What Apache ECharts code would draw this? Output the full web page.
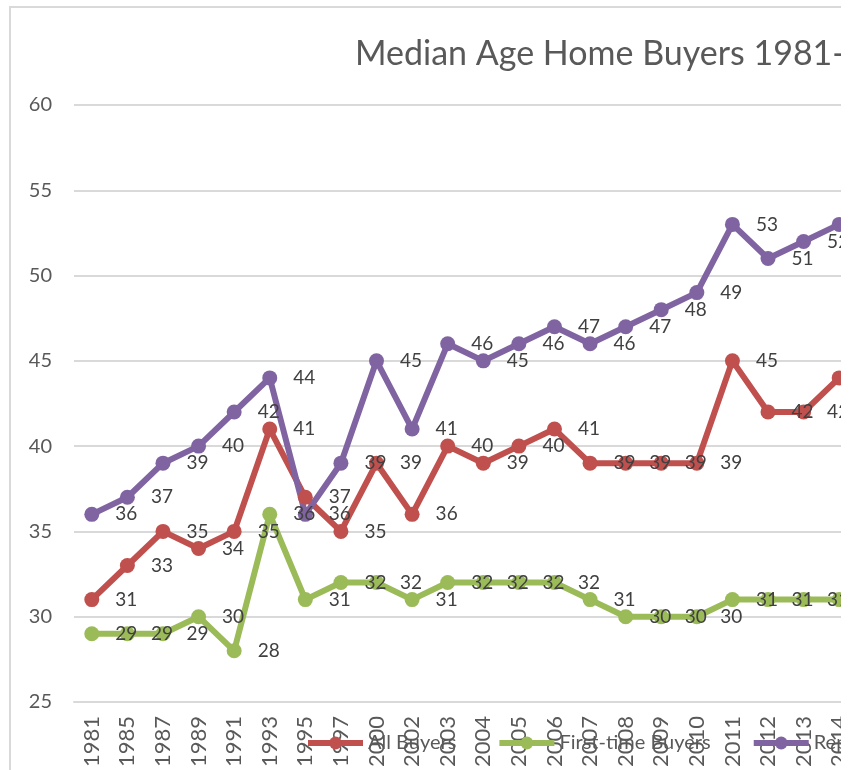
<!DOCTYPE html>
<html>
<head>
<meta charset="UTF-8">
<title>Median Age Home Buyers</title>
<style type="text/css">
	* { margin: 0; padding: 0; }
	body { background: #fff; width: 854px; height: 770px; overflow: hidden; }
	.wrap { position: absolute; left: 0; top: 0; width: 841px; height: 770px; overflow: hidden; }
	.frame { position: absolute; left: 9px; top: 6px; width: 1000px; height: 1000px;
		border-left: 2px solid #d9d9d9; border-top: 2px solid #d9d9d9; }
	#chart { position: absolute; left: 0; top: 0; width: 880px; height: 770px; }
</style>
</head>
<body>
<div class="wrap">
	<div class="frame"></div>
	<div id="chart"></div>
</div>
<script src="https://cdn.jsdelivr.net/npm/echarts@6/dist/echarts.min.js"></script>
<script type="text/javascript">
	// 数据
	var years = ['1981', '1985', '1987', '1989', '1991', '1993', '1995', '1997', '2000', '2002', '2003',
		'2004', '2005', '2006', '2007', '2008', '2009', '2010', '2011', '2012', '2013', '2014'];
	var allBuyers = [31, 33, 35, 34, 35, 41, 37, 35, 39, 36, 40, 39, 40, 41, 39, 39, 39, 39, 45, 42, 42, 44];
	var firstTime = [29, 29, 29, 30, 28, 36, 31, 32, 32, 31, 32, 32, 32, 32, 31, 30, 30, 30, 31, 31, 31, 31];
	var repeatBuyers = [36, 37, 39, 40, 42, 44, 36, 39, 45, 41, 46, 45, 46, 47, 46, 47, 48, 49, 53, 51, 52, 53];
	var yTicks = { min: 25, max: 60, step: 5 };

	var font = 'Lato';
	var myChart = echarts.init(document.getElementById('chart'));

	function makeSeries(name, data, color) {
		return {
			name: name,
			type: 'line',
			data: data,
			symbol: 'circle',
			symbolSize: 15,
			color: color,
			lineStyle: { width: 6, color: color },
			itemStyle: { color: color },
			label: {
				show: true,
				position: 'right',
				distance: 16,
				color: '#404040',
				fontFamily: font,
				fontSize: 19
			},
			animation: false
		};
	}

	var option = {
		title: {
			text: 'Median Age Home Buyers 1981-',
			left: 350,
			top: 32,
			textStyle: { color: '#595959', fontFamily: font, fontWeight: 'normal', fontSize: 34 }
		},
		legend: {
			left: 300,
			top: 728,
			width: 900,
			itemWidth: 55,
			itemHeight: 16,
			itemGap: 40,
			lineStyle: { width: 6 },
			textStyle: { color: '#595959', fontFamily: font, fontSize: 20 },
			data: ['All Buyers', 'First-time Buyers', 'Repeat Buyers']
		},
		grid: { left: 74, right: 23, top: 105, bottom: 67 },
		xAxis: {
			type: 'category',
			data: years,
			axisLine: { lineStyle: { color: '#d9d9d9', width: 2 } },
			axisTick: { show: false },
			axisLabel: { rotate: 90, margin: 14, color: '#595959', fontFamily: font, fontSize: 22, interval: 0 }
		},
		yAxis: {
			type: 'value',
			min: yTicks.min,
			max: yTicks.max,
			interval: yTicks.step,
			axisLine: { show: false },
			axisTick: { show: false },
			axisLabel: { margin: 22, color: '#595959', fontFamily: font, fontSize: 20 },
			splitLine: { lineStyle: { color: '#d9d9d9', width: 2 } }
		},
		series: [
			makeSeries('All Buyers', allBuyers, '#C0504D'),
			makeSeries('First-time Buyers', firstTime, '#9BBB59'),
			makeSeries('Repeat Buyers', repeatBuyers, '#8064A2')
		]
	};
	myChart.setOption(option);
</script>
</body>
</html>
